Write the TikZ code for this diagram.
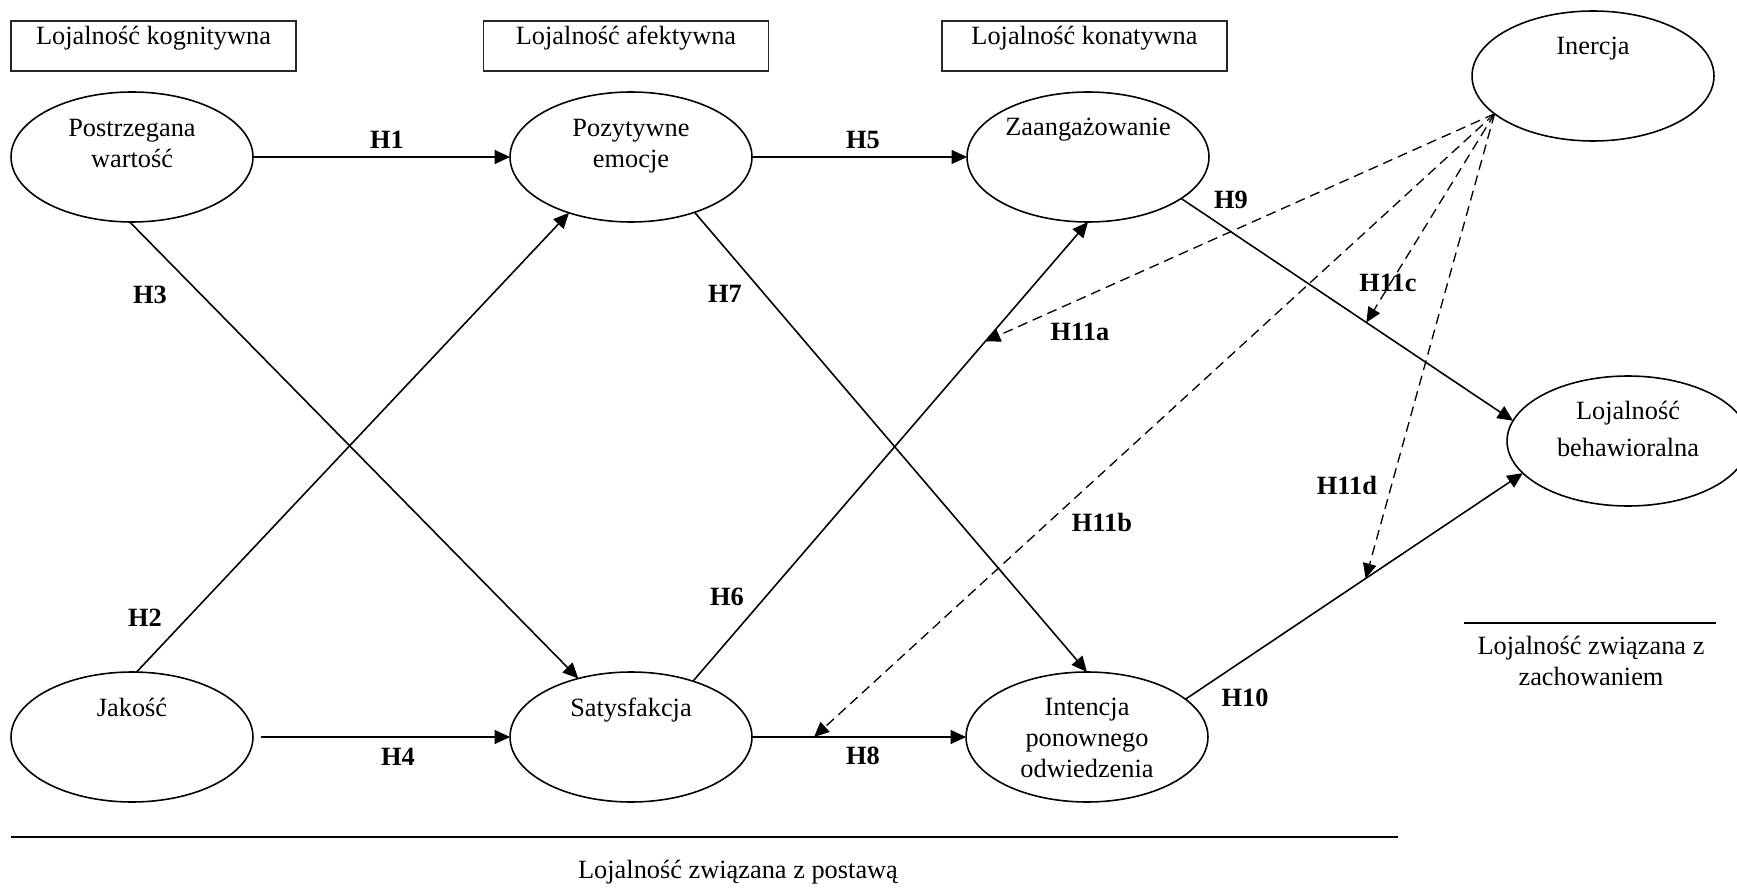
\documentclass[tikz,border=0pt]{standalone}
\usepackage{fontspec}
\setmainfont{Liberation Serif}
\usetikzlibrary{arrows.meta,shapes.geometric,calc}
\begin{document}
\begin{tikzpicture}[x=0.02cm,y=-0.02cm,
  ell/.style={draw, ellipse, line width=0.9pt, minimum width=4.84cm, minimum height=2.6cm, inner sep=0pt, outer sep=0pt},
  lbox/.style={draw=black!85, line width=0.9pt, minimum width=5.7cm, minimum height=1cm, inner sep=0pt},
  txt/.style={font=\fontsize{15}{18.2}\selectfont, align=center, anchor=base, inner sep=0pt},
  hl/.style={font=\fontsize{15}{18}\selectfont\bfseries, inner sep=0pt},
  arr/.style={line width=0.9pt, -{Triangle[length=0.31cm,width=0.28cm]}},
  darr/.style={line width=0.75pt, dash pattern=on 0.2cm off 0.12cm, -{Triangle[length=0.3cm,width=0.27cm]}},
  rule/.style={line width=0.9pt}
]
\useasboundingbox (0,0) rectangle (1737,888);

% header boxes
\node[lbox] (kog) at (153.5,46) {};
\node[txt] (kogt) at (153.5,45) {Lojalność kognitywna};
\node[lbox] (afe) at (626,46) {};
\node[txt] (afet) at (626,45) {Lojalność afektywna};
\node[lbox] (kon) at (1084.5,46) {};
\node[txt] (kont) at (1084.5,45) {Lojalność konatywna};

% ellipses (base anchor of multi-line text = last line's baseline)
\node[ell] (pw) at (132,157) {};
\node[txt] (pwt) at (132,168) {Postrzegana\\wartość};
\node[ell] (pe) at (631,157) {};
\node[txt] (pet) at (631,168) {Pozytywne\\emocje};
\node[ell] (za) at (1088,157) {};
\node[txt] (zat) at (1088,136) {Zaangażowanie};
\node[ell] (in) at (1593,76) {};
\node[txt] (int0) at (1593,55) {Inercja};
\node[ell] (beh) at (1628,441) {};
\node[txt, font=\fontsize{15}{20.5}\selectfont] (beht) at (1628,456) {Lojalność\\behawioralna};
\node[ell] (jk) at (132,737) {};
\node[txt] (jkt) at (132,716) {Jakość};
\node[ell] (sat) at (631,737) {};
\node[txt] (satt) at (631,716) {Satysfakcja};
\node[ell] (int) at (1087,737) {};
\node[txt, font=\fontsize{15}{17.4}\selectfont] (intt) at (1087,777) {Intencja\\ponownego\\odwiedzenia};

% solid connectors
\draw[arr] (pw.east) -- (pe.west);
\draw[arr] (pe.east) -- (za.west);
\draw[arr] (pw.268) -- (sat.132.5);
\draw[arr] (jk.86) -- (pe.222.6);
\draw[arr] ([xshift=0.16cm]jk.east) -- (sat.west);
\draw[arr] (pe.319.7) -- (int.north);
\draw[arr] (sat.42.6) -- coordinate[pos=0.74] (h6p) (za.south);
\draw[arr] (sat.east) -- coordinate[pos=0.29] (h8p) (int.west);
\draw[arr] (za.336) -- coordinate[pos=0.558] (h9p) (beh.170.7);
\draw[arr] (int.21.5) -- coordinate[pos=0.534] (h10p) (beh.197.9);

% dashed moderators
\coordinate (src) at (in.201);
\draw[darr] (src) -- (h6p);
\draw[darr] (src) -- (h8p);
\draw[darr] (src) -- (h9p);
\draw[darr] (src) -- (h10p);

% hypothesis labels
\node[hl] (lh1) at (387,140) {H1};
\node[hl] (lh5) at (863,140) {H5};
\node[hl] (lh3) at (150,295) {H3};
\node[hl] (lh7) at (725,294) {H7};
\node[hl] (lh2) at (145,618) {H2};
\node[hl] (lh6) at (727,597) {H6};
\node[hl] (lh4) at (398,757) {H4};
\node[hl] (lh8) at (863,756) {H8};
\node[hl] (lh9) at (1231,200) {H9};
\node[hl] (lh10) at (1245,698) {H10};
\node[hl] (lh11a) at (1080,332) {H11a};
\node[hl] (lh11b) at (1102,522) {H11b};
\node[hl] (lh11c) at (1388,283) {H11c};
\node[hl] (lh11d) at (1347,485) {H11d};

% group rules and captions
\coordinate (r1a) at (11,837);
\coordinate (r1b) at (1398,837);
\draw[rule] (r1a) -- (r1b);
\node[txt] (postt) at (738,878) {Lojalność związana z postawą};
\coordinate (r2a) at (1464,623);
\coordinate (r2b) at (1716,623);
\draw[rule] (r2a) -- (r2b);
\node[txt, font=\fontsize{15}{17.6}\selectfont] (zacht) at (1591,685) {Lojalność związana z\\zachowaniem};
\end{tikzpicture}
\end{document}
